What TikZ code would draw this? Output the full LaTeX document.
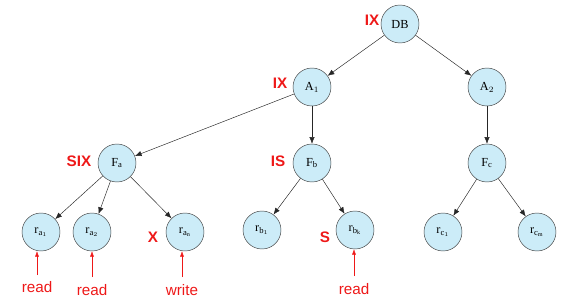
\documentclass[tikz,border=0pt]{standalone}
\usepackage{fontspec}
\setmainfont{Liberation Serif}
\setsansfont{Liberation Sans}
\usetikzlibrary{arrows.meta,positioning}
\definecolor{nodefill}{RGB}{204,236,248}
\definecolor{lockred}{RGB}{238,24,24}
\tikzset{
  obj/.style={circle,draw=black!75,fill=nodefill,minimum size=1.14cm,inner sep=0pt,font=\fontsize{10.5}{12}\selectfont},
  link/.style={-{Latex[length=2mm,width=1.6mm]},draw=black!85},
  lock/.style={font=\sffamily\bfseries\fontsize{13}{15}\selectfont,text=lockred},
  op/.style={font=\sffamily\fontsize{13}{15}\selectfont,text=lockred},
  oparrow/.style={-{Latex[length=1.6mm,width=1.2mm]},draw=lockred}
}

\begin{document}
\begin{tikzpicture}[x=0.03cm,y=-0.03cm]
  \useasboundingbox (0,0) rectangle (575,303);

  % granularity tree
  \node[obj] (db) at (400,24) {DB};
  \node[obj] (a1) at (312,87) {A$_1$};
  \node[obj] (a2) at (487,87) {A$_2$};
  \node[obj] (fa) at (117,163) {F$_\mathrm{a}$};
  \node[obj] (fb) at (312,163) {F$_\mathrm{b}$};
  \node[obj] (fc) at (487,163) {F$_\mathrm{c}$};
  \node[obj] (ra1) at (41,232) {r$_{\mathrm{a}_1}$};
  \node[obj] (ra2) at (92,232) {r$_{\mathrm{a}_2}$};
  \node[obj] (ran) at (185,232) {r$_{\mathrm{a}_\mathrm{n}}$};
  \node[obj] (rb1) at (262,230) {r$_{\mathrm{b}_1}$};
  \node[obj] (rbk) at (355,230) {r$_{\mathrm{b}_\mathrm{k}}$};
  \node[obj] (rc1) at (443,232) {r$_{\mathrm{c}_1}$};
  \node[obj] (rcm) at (537,232) {r$_{\mathrm{c}_\mathrm{m}}$};

  \draw[link] (db) -- (a1);
  \draw[link] (db) -- (a2);
  \draw[link] (a1) -- (fa);
  \draw[link] (a1) -- (fb);
  \draw[link] (a2) -- (fc);
  \draw[link] (fa) -- (ra1);
  \draw[link] (fa) -- (ra2);
  \draw[link] (fa) -- (ran);
  \draw[link] (fb) -- (rb1);
  \draw[link] (fb) -- (rbk);
  \draw[link] (fc) -- (rc1);
  \draw[link] (fc) -- (rcm);

  % lock modes
  \node[lock] (mdb) at (372,20) {IX};
  \node[lock] (ma1) at (280,83) {IX};
  \node[lock] (mfa) at (79,161) {SIX};
  \node[lock] (mfb) at (278,161) {IS};
  \node[lock] (mran) at (153,237) {X};
  \node[lock] (mrbk) at (325,237) {S};

  % operations
  \node[op] (op1) at (37,287) {read};
  \node[op] (op2) at (92,290) {read};
  \node[op] (op3) at (182,290) {write};
  \node[op] (op4) at (354,289) {read};
  \coordinate (t1) at (37,275);
  \coordinate (t2) at (92,277);
  \coordinate (t3) at (182,277);
  \coordinate (t4) at (354,276);
  \draw[oparrow] (t1) -- (t1 |- ra1.south);
  \draw[oparrow] (t2) -- (t2 |- ra2.south);
  \draw[oparrow] (t3) -- (t3 |- ran.south);
  \draw[oparrow] (t4) -- (t4 |- rbk.south);
\end{tikzpicture}
\end{document}
